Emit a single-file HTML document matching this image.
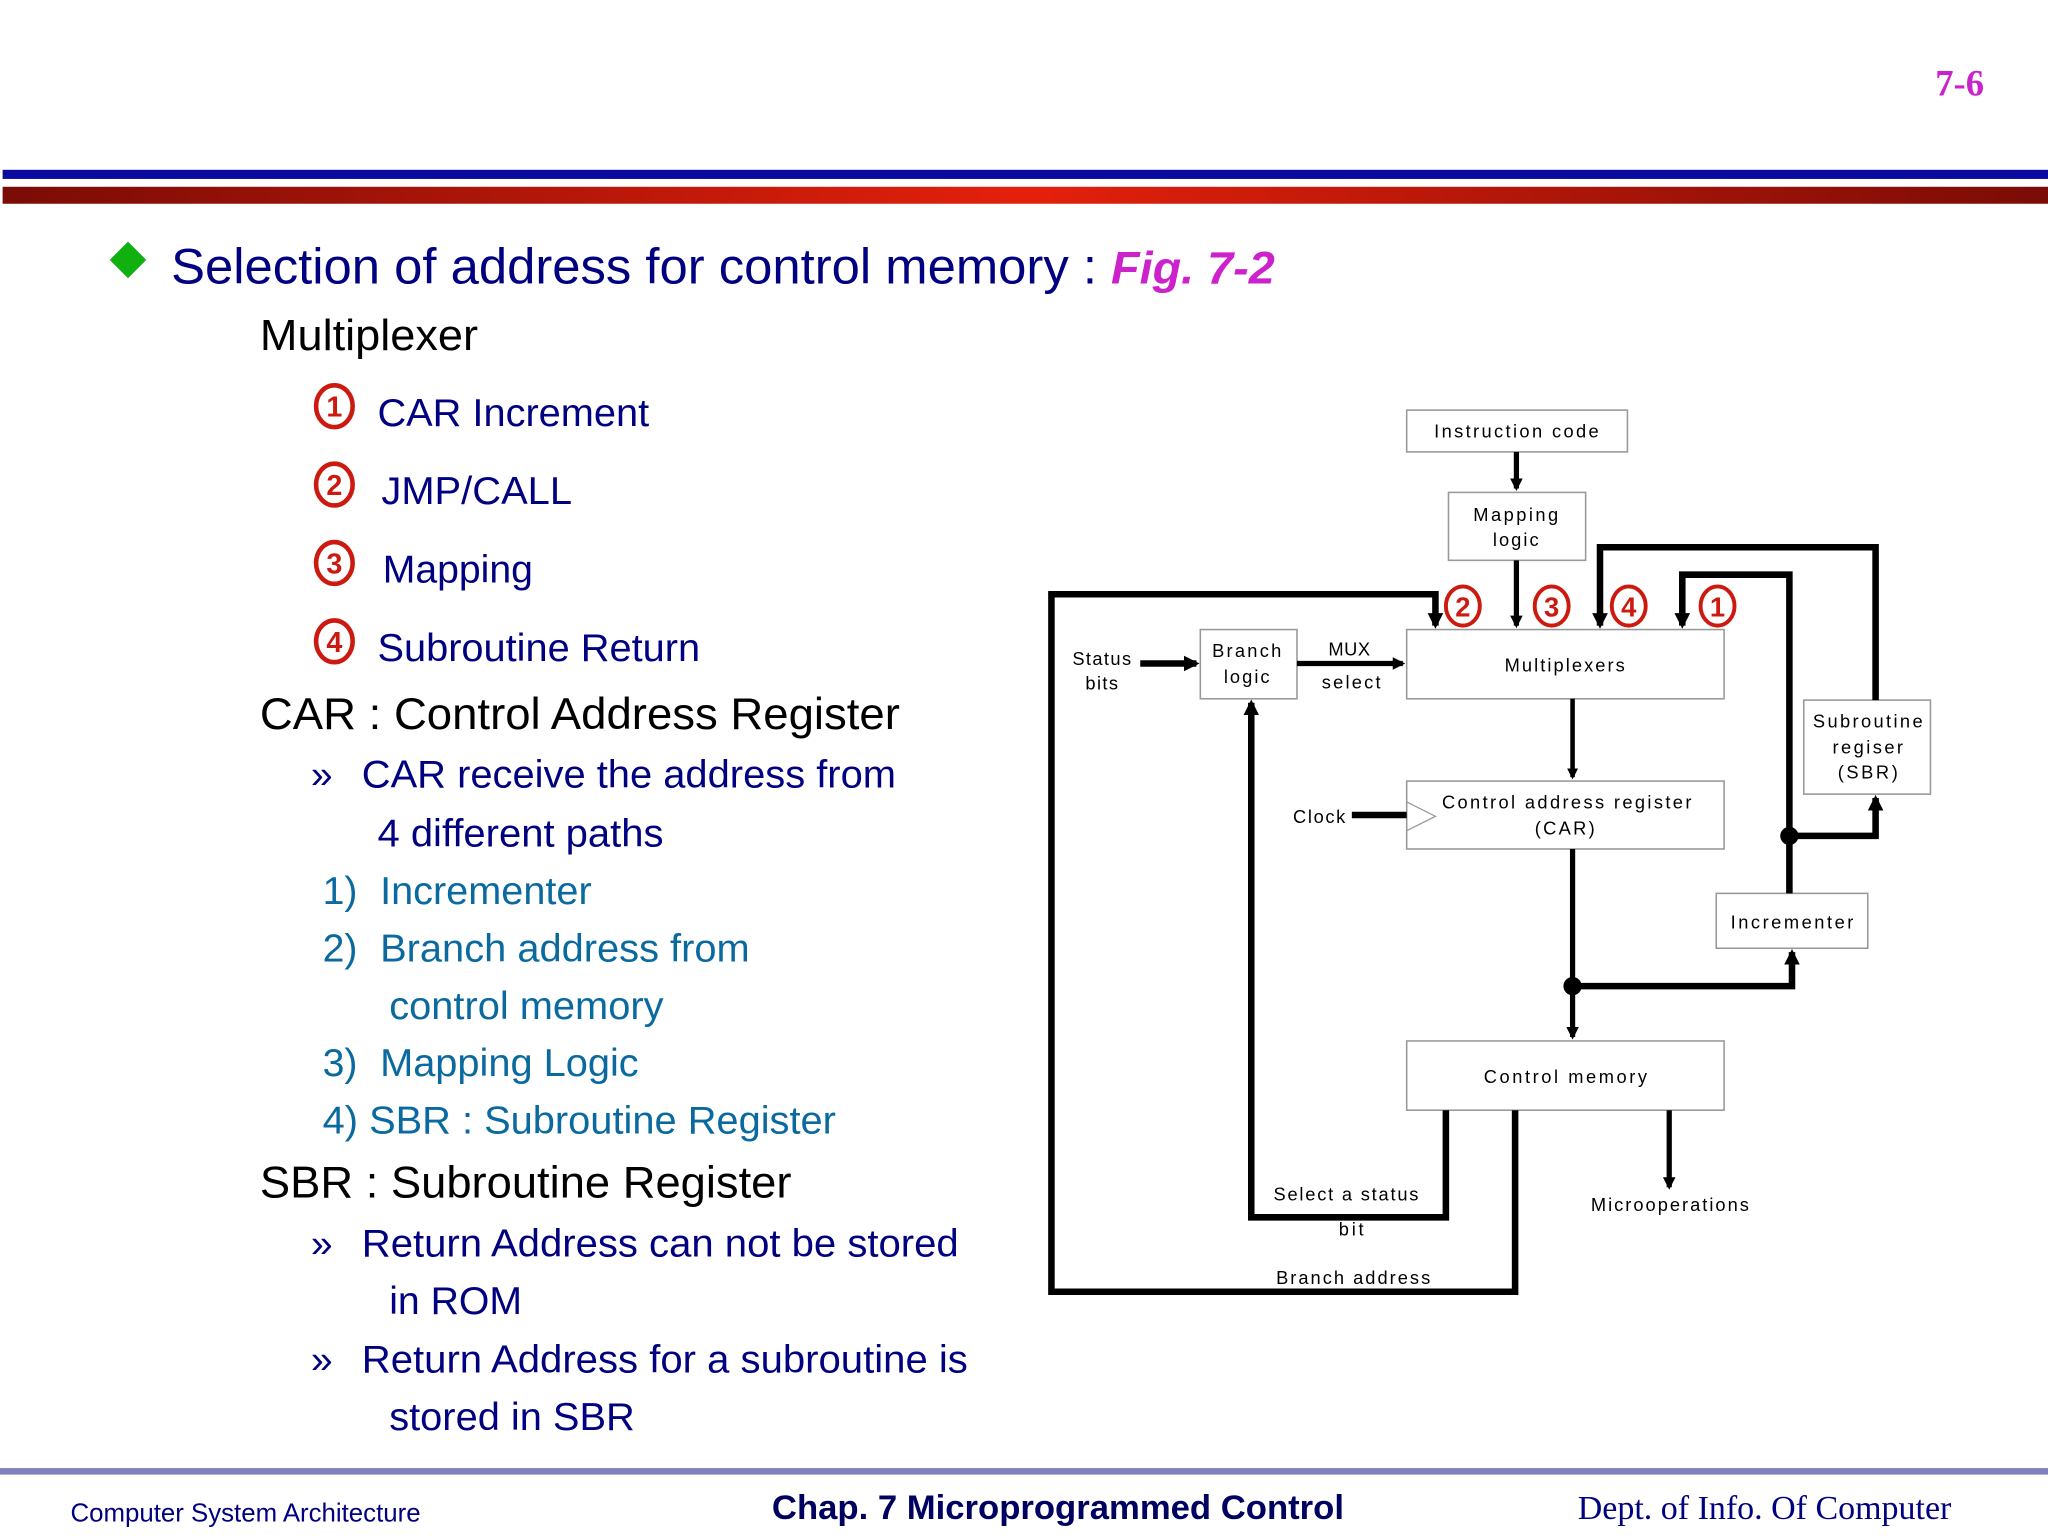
<!DOCTYPE html>
<html><head><meta charset="utf-8"><style>
html,body{margin:0;padding:0;background:#fff;}
svg{display:block}
.t{font-family:"Liberation Sans",sans-serif;}
.d{font-family:"Liberation Sans Narrow","Liberation Sans",sans-serif;font-size:14px;fill:#000;}
</style></head><body>
<svg width="2048" height="1536" viewBox="0 0 1568 1176" xmlns="http://www.w3.org/2000/svg">
<defs>
<linearGradient id="rg" x1="0" x2="1" y1="0" y2="0">
<stop offset="0" stop-color="#7a0c06"/><stop offset="0.5" stop-color="#e4200c"/><stop offset="1" stop-color="#7a0c06"/>
</linearGradient>
<marker id="ah" viewBox="0 0 10 10" refX="8" refY="5" markerWidth="2.4" markerHeight="2.4" orient="auto"><path d="M0,0 L10,5 L0,10 z" fill="#000"/></marker>
</defs>
<rect width="1568" height="1176" fill="#fff"/>
<text x="1519" y="73" text-anchor="end" font-family="Liberation Serif,serif" font-weight="bold" font-size="28" fill="#cc22cc">7-6</text>
<rect x="2" y="130" width="1566" height="7" fill="#0a0aa0"/>
<rect x="2" y="143" width="1566" height="13" fill="url(#rg)"/>
<!-- title -->
<path d="M98,185 L112,199 L98,213 L84,199 z" fill="#10b010"/>
<text class="t" x="131" y="217" font-size="38" fill="#000080" textLength="845" lengthAdjust="spacingAndGlyphs">Selection of address for control memory : <tspan fill="#cc22cc" font-weight="bold" font-style="italic" font-size="35">Fig. 7-2</tspan></text>
<text class="t" x="199" y="268" font-size="33" fill="#000" textLength="167" lengthAdjust="spacingAndGlyphs">Multiplexer</text>
<g fill="none" stroke="#cc1a10" stroke-width="3.5">
<ellipse cx="256" cy="311" rx="14" ry="16"/><ellipse cx="256" cy="371" rx="14" ry="16"/><ellipse cx="256" cy="431" rx="14" ry="16"/><ellipse cx="256" cy="491" rx="14" ry="16"/>
</g>
<g class="t" font-size="22" font-weight="bold" fill="#cc1a10" text-anchor="middle">
<text x="256" y="319">1</text><text x="256" y="379">2</text><text x="256" y="439">3</text><text x="256" y="499">4</text>
</g>
<g class="t" font-size="30" fill="#000080">
<text x="289" y="326" textLength="208" lengthAdjust="spacingAndGlyphs">CAR Increment</text>
<text x="292" y="386" textLength="146" lengthAdjust="spacingAndGlyphs">JMP/CALL</text>
<text x="293" y="446">Mapping</text>
<text x="289" y="506" textLength="247" lengthAdjust="spacingAndGlyphs">Subroutine Return</text>
</g>
<text class="t" x="199" y="558" font-size="34" fill="#000" textLength="490" lengthAdjust="spacingAndGlyphs">CAR : Control Address Register</text>
<g class="t" font-size="30" fill="#000080">
<text x="238" y="603">»</text><text x="277" y="603" textLength="409" lengthAdjust="spacingAndGlyphs">CAR receive the address from</text>
<text x="289" y="648" textLength="219" lengthAdjust="spacingAndGlyphs">4 different paths</text>
</g>
<g class="t" font-size="30" fill="#0a6aa0">
<text x="247" y="692">1)</text><text x="291" y="692" textLength="162" lengthAdjust="spacingAndGlyphs">Incrementer</text>
<text x="247" y="736">2)</text><text x="291" y="736" textLength="283" lengthAdjust="spacingAndGlyphs">Branch address from</text>
<text x="298" y="780" textLength="210" lengthAdjust="spacingAndGlyphs">control memory</text>
<text x="247" y="824">3)</text><text x="291" y="824" textLength="198" lengthAdjust="spacingAndGlyphs">Mapping Logic</text>
<text x="247" y="868" textLength="393" lengthAdjust="spacingAndGlyphs">4) SBR : Subroutine Register</text>
</g>
<text class="t" x="199" y="917" font-size="34" fill="#000" textLength="407" lengthAdjust="spacingAndGlyphs">SBR : Subroutine Register</text>
<g class="t" font-size="30" fill="#000080">
<text x="238" y="962">»</text><text x="277" y="962" textLength="457" lengthAdjust="spacingAndGlyphs">Return Address can not be stored</text>
<text x="298" y="1006">in ROM</text>
<text x="238" y="1051">»</text><text x="277" y="1051" textLength="464" lengthAdjust="spacingAndGlyphs">Return Address for a subroutine is</text>
<text x="298" y="1095" textLength="188" lengthAdjust="spacingAndGlyphs">stored in SBR</text>
</g>

<!-- diagram boxes -->
<g fill="#fff" stroke="#999" stroke-width="1.2">
<rect x="1077" y="314" width="169" height="32"/>
<rect x="1109" y="377" width="105" height="52"/>
<rect x="1077" y="482" width="243" height="53"/>
<rect x="919" y="482" width="74" height="53"/>
<rect x="1077" y="598" width="243" height="52"/>
<rect x="1314" y="684" width="116" height="42"/>
<rect x="1381" y="536" width="97" height="72"/>
<rect x="1077" y="797" width="243" height="53"/>
</g>
<path d="M1077,614 L1099,625 L1077,636" fill="none" stroke="#999" stroke-width="1"/>
<!-- connectors -->
<g fill="none" stroke="#000" stroke-width="5" stroke-linejoin="miter">
<path d="M1161,346 V374" marker-end="url(#ah)" stroke-width="4"/>
<path d="M1161,429 V479" marker-end="url(#ah)" stroke-width="4"/>
<path d="M873,508 H916" marker-end="url(#ah)" stroke-width="5"/>
<path d="M993,508 H1074" marker-end="url(#ah)" stroke-width="4"/>
<path d="M1204,535 V595" marker-end="url(#ah)" stroke-width="3.5"/>
<path d="M1035,624 H1077" stroke-width="5"/>
<path d="M1204,650 V794" marker-end="url(#ah)" stroke-width="4"/>
<path d="M1204,755 H1372 V729" marker-end="url(#ah)"/>
<path d="M1370,684 V440 H1288 V479" marker-end="url(#ah)"/>
<path d="M1370,640 H1436 V611" marker-end="url(#ah)"/>
<path d="M1436,536 V419 H1225 V479" marker-end="url(#ah)"/>
<path d="M1160,850 V989 H805 V455 H1099 V479" marker-end="url(#ah)"/>
<path d="M1107,850 V932 H958 V538" marker-end="url(#ah)"/>
<path d="M1278,850 V909" marker-end="url(#ah)" stroke-width="4"/>
</g>
<circle cx="1204" cy="755" r="7" fill="#000"/>
<circle cx="1370" cy="640" r="7" fill="#000"/>
<!-- diagram circled numbers -->
<g fill="#fff" stroke="#cc1a10" stroke-width="3">
<ellipse cx="1120" cy="464" rx="13" ry="15"/><ellipse cx="1188" cy="464" rx="13" ry="15"/><ellipse cx="1247" cy="464" rx="13" ry="15"/><ellipse cx="1315" cy="464" rx="13" ry="15"/>
</g>
<g class="t" font-size="21" font-weight="bold" fill="#cc1a10" text-anchor="middle">
<text x="1120" y="472">2</text><text x="1188" y="472">3</text><text x="1247" y="472">4</text><text x="1315" y="472">1</text>
</g>
<!-- diagram labels -->
<g class="d">
<text x="1098" y="335" textLength="126" lengthAdjust="spacing">Instruction code</text>
<text x="1128" y="399" textLength="65" lengthAdjust="spacing">Mapping</text>
<text x="1143" y="418" textLength="35" lengthAdjust="spacing">logic</text>
<text x="821" y="509" textLength="45" lengthAdjust="spacing">Status</text>
<text x="831" y="528" textLength="25" lengthAdjust="spacing">bits</text>
<text x="928" y="503" textLength="53" lengthAdjust="spacing">Branch</text>
<text x="937" y="523" textLength="35" lengthAdjust="spacing">logic</text>
<text x="1017" y="502" textLength="32" lengthAdjust="spacing">MUX</text>
<text x="1012" y="527" textLength="45" lengthAdjust="spacing">select</text>
<text x="1152" y="514" textLength="92" lengthAdjust="spacing">Multiplexers</text>
<text x="990" y="630" textLength="40" lengthAdjust="spacing">Clock</text>
<text x="1104" y="619" textLength="191" lengthAdjust="spacing">Control address register</text>
<text x="1175" y="639" textLength="46" lengthAdjust="spacing">(CAR)</text>
<text x="1388" y="557" textLength="84" lengthAdjust="spacing">Subroutine</text>
<text x="1403" y="577" textLength="54" lengthAdjust="spacing">regiser</text>
<text x="1407" y="596" textLength="46" lengthAdjust="spacing">(SBR)</text>
<text x="1325" y="711" textLength="94" lengthAdjust="spacing">Incrementer</text>
<text x="1136" y="829" textLength="125" lengthAdjust="spacing">Control memory</text>
<text x="975" y="919" textLength="111" lengthAdjust="spacing">Select a status</text>
<text x="1025" y="946" textLength="19" lengthAdjust="spacing">bit</text>
<text x="1218" y="927" textLength="121" lengthAdjust="spacing">Microoperations</text>
<text x="977" y="983" textLength="118" lengthAdjust="spacing">Branch address</text>
</g>
<!-- footer -->
<rect x="0" y="1124" width="1568" height="5" fill="#8080c0"/>
<text class="t" x="54" y="1165" font-size="20" fill="#000080" textLength="268" lengthAdjust="spacingAndGlyphs">Computer System Architecture</text>
<text class="t" x="591" y="1163" font-size="26" font-weight="bold" fill="#000060" textLength="438" lengthAdjust="spacingAndGlyphs">Chap. 7  Microprogrammed Control</text>
<text x="1208" y="1163" font-family="Liberation Serif,serif" font-size="26" fill="#000080" textLength="286" lengthAdjust="spacingAndGlyphs">Dept. of Info. Of Computer</text>
</svg>
</body></html>
